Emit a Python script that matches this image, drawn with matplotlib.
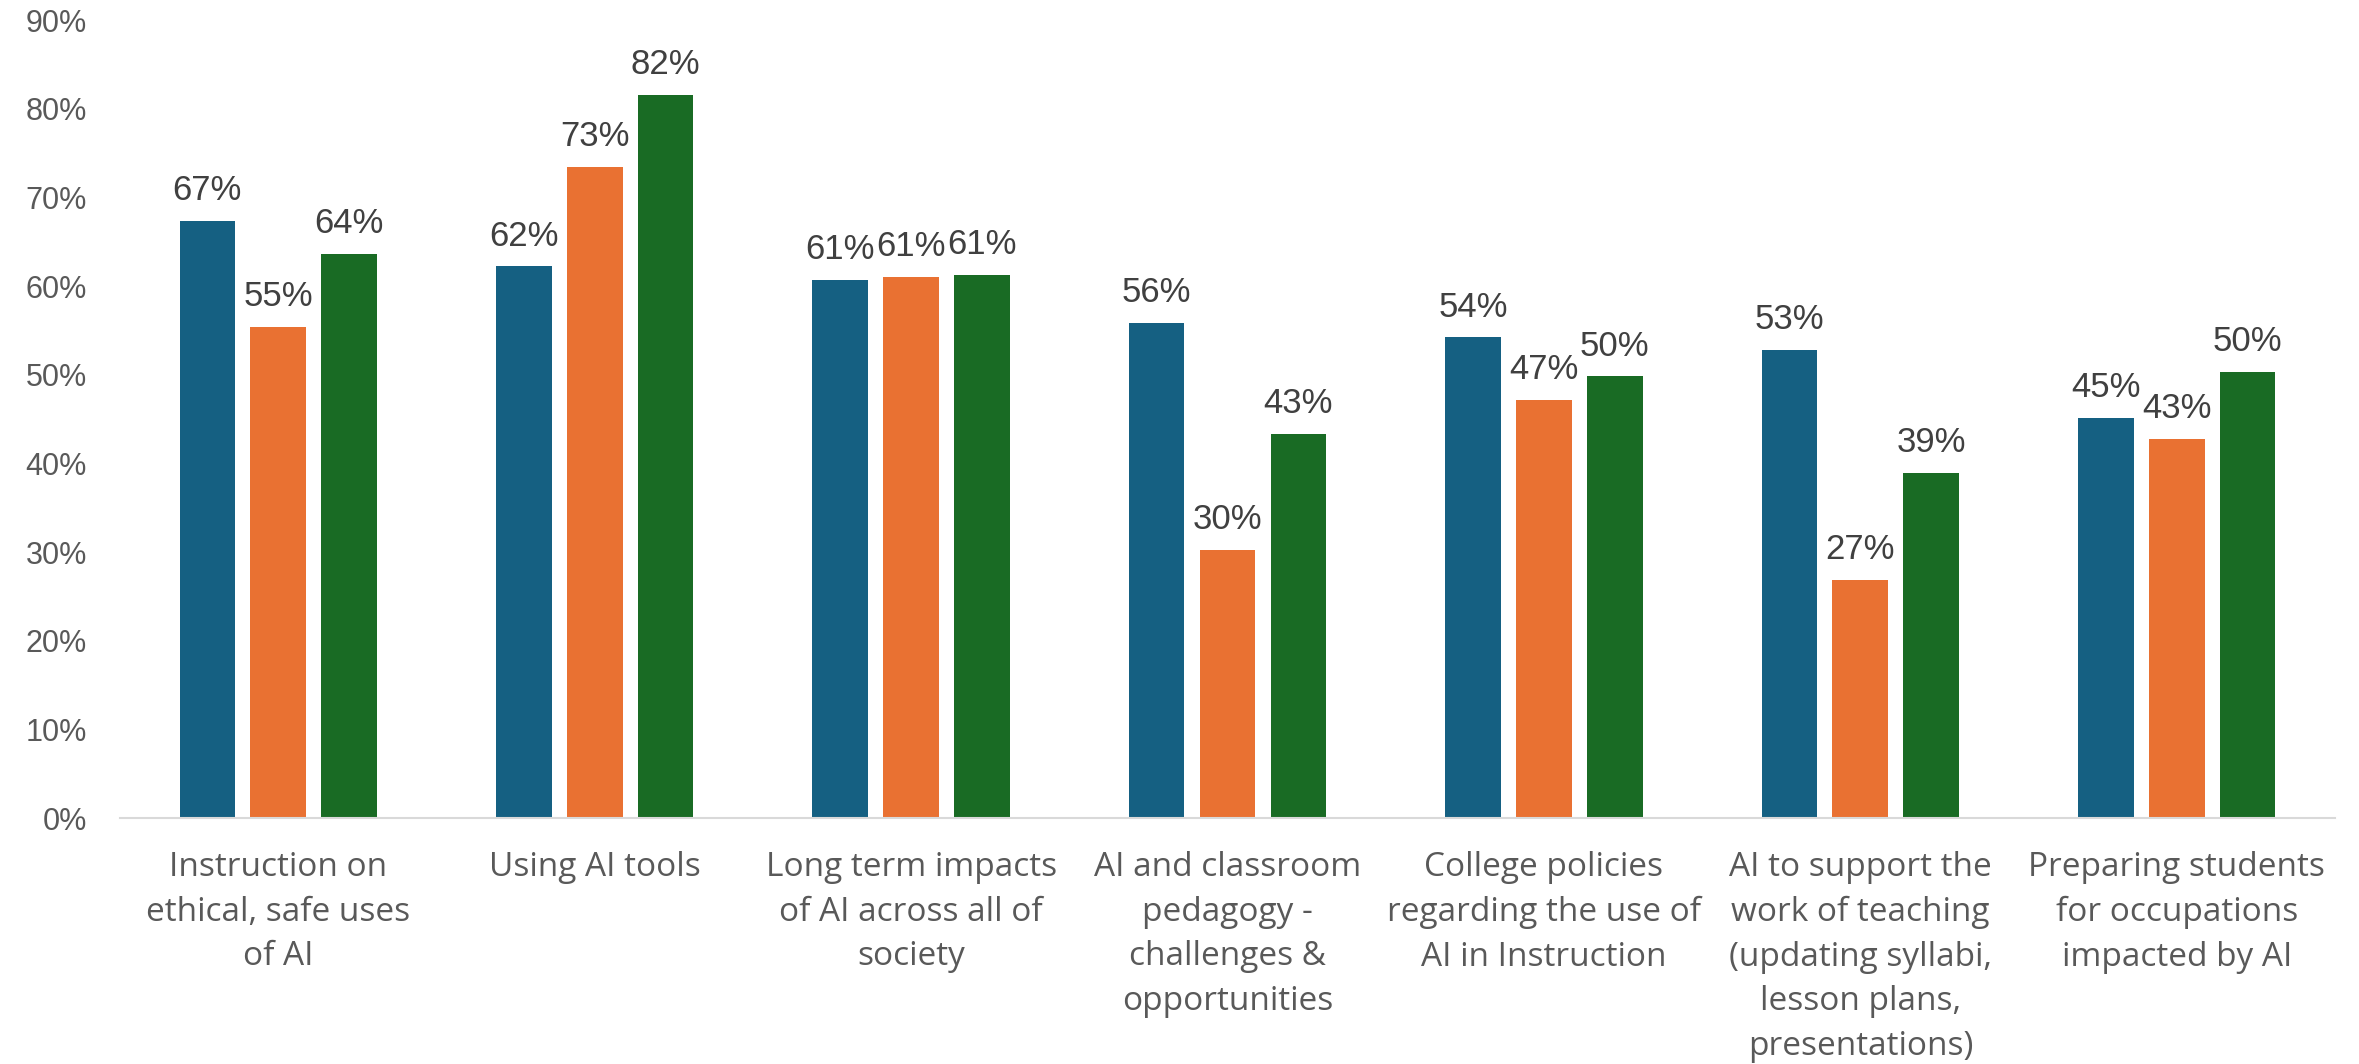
import matplotlib

matplotlib.use("Agg")
import matplotlib.pyplot as plt
import numpy as np

# --- data ---
categories = [
    "Instruction on\nethical, safe uses\nof AI",
    "Using AI tools",
    "Long term impacts\nof AI across all of\nsociety",
    "AI and classroom\npedagogy -\nchallenges &\nopportunities",
    "College policies\nregarding the use of\nAI in Instruction",
    "AI to support the\nwork of teaching\n(updating syllabi,\nlesson plans,\npresentations)",
    "Preparing students\nfor occupations\nimpacted by AI",
]
series_a = [0.673, 0.622, 0.607, 0.558, 0.542, 0.528, 0.451]
series_b = [0.554, 0.734, 0.610, 0.302, 0.471, 0.268, 0.428]
series_c = [0.636, 0.815, 0.612, 0.433, 0.498, 0.389, 0.503]
yticks = [0.0, 0.1, 0.2, 0.3, 0.4, 0.5, 0.6, 0.7, 0.8, 0.9]

# Office palette
_C_BLUE = "#156082"
_C_ORANGE = "#E97132"
_C_GREEN = "#196B24"
_TXT_TICK = "#595959"
_TXT_LABEL = "#404040"

plt.rcParams["font.family"] = ["Liberation Sans", "DejaVu Sans"]

fig = plt.figure(figsize=(23.59, 10.64), dpi=100)
ax = fig.add_axes([0.0509, 0.2312, 0.9389, 0.75])

x = np.arange(len(categories))
width = 0.176
step = 0.224
for k, (vals, color) in enumerate(
    [(series_a, _C_BLUE), (series_b, _C_ORANGE), (series_c, _C_GREEN)]
):
    bars = ax.bar(x + (k - 1) * step, vals, width, color=color, zorder=2)
    for b, v in zip(bars, vals):
        ax.annotate(
            f"{round(v * 100):.0f}%",
            xy=(b.get_x() + b.get_width() / 2, v),
            xytext=(0, 10), textcoords="offset points",
            ha="center", va="bottom", fontsize=25, color=_TXT_LABEL,
        )

ax.set_xlim(-0.5, len(categories) - 0.5)
ax.set_ylim(0, 0.9)
ax.set_yticks(yticks)
ax.set_yticklabels([f"{t * 100:.0f}%" for t in yticks])
ax.set_xticks(x)
ax.set_xticklabels(categories, linespacing=1.46, va="top",
                   family=["Open Sans", "DejaVu Sans"])
ax.tick_params(axis="y", length=0, pad=24, labelsize=22, labelcolor=_TXT_TICK)
ax.tick_params(axis="x", length=0, pad=24, labelsize=24, labelcolor=_TXT_TICK)

for s in ["top", "right", "left"]:
    ax.spines[s].set_visible(False)
ax.spines["bottom"].set_color("#D9D9D9")
ax.spines["bottom"].set_linewidth(1.5)

fig.savefig("out.png", dpi=100)
